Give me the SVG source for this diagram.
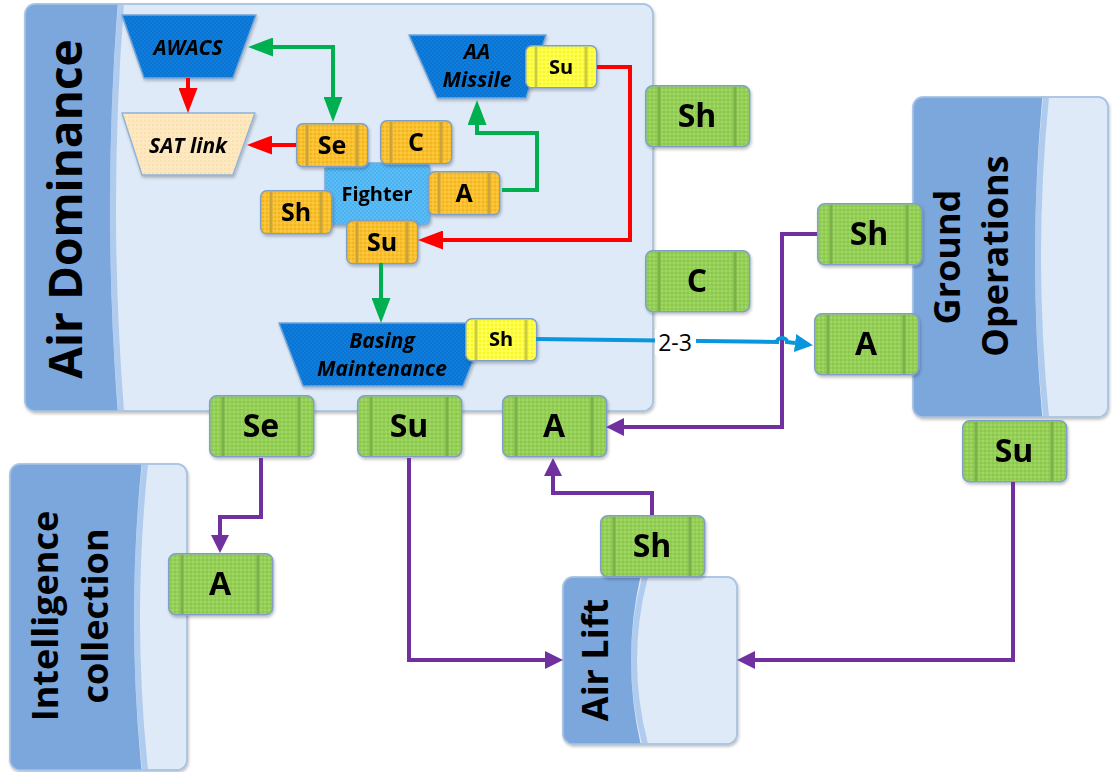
<svg xmlns="http://www.w3.org/2000/svg" xmlns:xlink="http://www.w3.org/1999/xlink" width="1112" height="772" viewBox="0 0 1112 772">
<style>
.cont{fill:#dfeaf8;stroke:#a9c3e4;stroke-width:1.5}
.band{fill:#7ba7dd}
.strip{fill:#afcbee}
.big{font-family:"Open Sans","Liberation Sans",sans-serif;font-weight:bold;fill:#000;text-anchor:middle}
.lbl{font-family:"Open Sans","Liberation Sans",sans-serif;font-weight:bold;fill:#000;text-anchor:middle}
.ital{font-family:"Open Sans","Liberation Sans",sans-serif;font-weight:bold;font-style:italic;fill:#000;text-anchor:middle}
.g32{font-size:32px}
.o25{font-size:25px}
.y20{font-size:20px}
.trap{fill:url(#pBlue);stroke:#76a4d6;stroke-width:1.5;stroke-linejoin:round}
.conn{fill:none;stroke-width:4;stroke-linejoin:miter}
.green{stroke:#00b050}
.red{stroke:#ff0000}
.purple{stroke:#7030a0}
.blue{stroke:#0a96dc;stroke-width:4}
.node{filter:url(#sh)}
</style>
<defs>
<filter id="sh" x="-10%" y="-10%" width="130%" height="140%"><feDropShadow dx="1" dy="2" stdDeviation="1.5" flood-color="#000" flood-opacity="0.25"/></filter>
<pattern id="pGreen" width="4" height="4" patternUnits="userSpaceOnUse"><rect width="4" height="4" fill="#94d056"/><circle cx="1" cy="1" r="0.8" fill="#b4e07c"/><circle cx="3" cy="3" r="0.8" fill="#7fbf42"/></pattern>
<pattern id="pOrange" width="4" height="4" patternUnits="userSpaceOnUse"><rect width="4" height="4" fill="#fbc02d"/><circle cx="1" cy="1" r="0.8" fill="#ffd45a"/><circle cx="3" cy="3" r="0.8" fill="#e8a818"/></pattern>
<pattern id="pYellow" width="4" height="4" patternUnits="userSpaceOnUse"><rect width="4" height="4" fill="#ffff3c"/><circle cx="1" cy="1" r="0.8" fill="#ffff90"/><circle cx="3" cy="3" r="0.8" fill="#e6e620"/></pattern>
<pattern id="pBlue" width="4" height="4" patternUnits="userSpaceOnUse"><rect width="4" height="4" fill="#0c7fe0"/><circle cx="1" cy="1" r="0.8" fill="#0a64b8"/><circle cx="3" cy="3" r="0.8" fill="#0a64b8"/></pattern>
<pattern id="pLight" width="4" height="4" patternUnits="userSpaceOnUse"><rect width="4" height="4" fill="#5bbdf6"/><circle cx="1" cy="1" r="0.8" fill="#3aa4ea"/><circle cx="3" cy="3" r="0.8" fill="#3aa4ea"/></pattern>
<pattern id="pTan" width="4" height="4" patternUnits="userSpaceOnUse"><rect width="4" height="4" fill="#fde8bf"/><circle cx="1" cy="1" r="0.8" fill="#f6d9a0"/></pattern>
<g id="gbox"><rect x="0.75" y="0.75" width="104" height="61" rx="7" fill="url(#pGreen)" stroke="#7f9fc8" stroke-width="1.5"/><line x1="14" y1="2" x2="14" y2="61" stroke="#7bb04c" stroke-width="3"/><line x1="90" y1="2" x2="90" y2="61" stroke="#7bb04c" stroke-width="3"/></g>
<g id="obox"><rect x="0.75" y="0.75" width="71" height="43" rx="6" fill="url(#pOrange)" stroke="#7f9fc8" stroke-width="1.5"/><line x1="11" y1="2" x2="11" y2="43" stroke="#c9a43a" stroke-width="3"/><line x1="61" y1="2" x2="61" y2="43" stroke="#c9a43a" stroke-width="3"/></g>
<g id="ybox"><rect x="0.75" y="0.75" width="71" height="42" rx="6" fill="url(#pYellow)" stroke="#7f9fc8" stroke-width="1.5"/><line x1="11" y1="2" x2="11" y2="42" stroke="#cccc40" stroke-width="3"/><line x1="61" y1="2" x2="61" y2="42" stroke="#cccc40" stroke-width="3"/></g>
<marker id="mG" markerUnits="userSpaceOnUse" markerWidth="25" markerHeight="19" refX="0" refY="9.5" orient="auto-start-reverse"><path d="M0,0 L25,9.5 L0,19 Z" fill="#00b050"/></marker>
<marker id="mR" markerUnits="userSpaceOnUse" markerWidth="25" markerHeight="19" refX="0" refY="9.5" orient="auto"><path d="M0,0 L25,9.5 L0,19 Z" fill="#ff0000"/></marker>
<marker id="mP" markerUnits="userSpaceOnUse" markerWidth="18" markerHeight="18" refX="0" refY="9" orient="auto"><path d="M0,0 L18,9 L0,18 Z" fill="#7030a0"/></marker>
<marker id="mB" markerUnits="userSpaceOnUse" markerWidth="18" markerHeight="18" refX="0" refY="9" orient="auto"><path d="M0,0 L18,9 L0,18 Z" fill="#0a96dc"/></marker>
<clipPath id="cAD"><rect x="25" y="4" width="628" height="407" rx="10"/></clipPath>
<clipPath id="cIC"><rect x="10" y="464" width="177" height="306" rx="10"/></clipPath>
<clipPath id="cGO"><rect x="913" y="97" width="195" height="320" rx="10"/></clipPath>
<clipPath id="cAL"><rect x="563" y="577" width="174" height="167" rx="10"/></clipPath>
</defs>

<g id="air-dominance">
<rect class="cont" x="25" y="4" width="628" height="407" rx="10" filter="url(#sh)"/>
<g clip-path="url(#cAD)">
<path class="strip" d="M118,4 L124,4 Q108,207 124,411 L118,411 Q102,207 118,4 Z"/>
<path class="band" d="M20,0 L118,0 Q102,207 118,415 L20,415 Z"/>
</g>
<rect x="25" y="4" width="628" height="407" rx="10" fill="none" stroke="#a9c3e4" stroke-width="1.5"/>
<text class="big" font-size="46" transform="translate(82,209) rotate(-90)">Air Dominance</text>
</g>

<g id="intelligence-collection">
<rect class="cont" x="10" y="464" width="177" height="306" rx="10" filter="url(#sh)"/>
<g clip-path="url(#cIC)">
<path class="strip" d="M142,464 L148,464 Q132,617 148,770 L142,770 Q126,617 142,464 Z"/>
<path class="band" d="M5,460 L142,460 Q126,617 142,775 L5,775 Z"/>
</g>
<rect x="10" y="464" width="177" height="306" rx="10" fill="none" stroke="#a9c3e4" stroke-width="1.5"/>
<text class="big" font-size="36" transform="translate(58,616) rotate(-90)">Intelligence</text>
<text class="big" font-size="36" transform="translate(108,616) rotate(-90)">collection</text>
</g>

<g id="ground-operations">
<rect class="cont" x="913" y="97" width="195" height="320" rx="10" filter="url(#sh)"/>
<g clip-path="url(#cGO)">
<path class="strip" d="M1043,97 L1049,97 Q1033,257 1049,417 L1043,417 Q1027,257 1043,97 Z"/>
<path class="band" d="M905,90 L1043,90 Q1027,257 1043,425 L905,425 Z"/>
</g>
<rect x="913" y="97" width="195" height="320" rx="10" fill="none" stroke="#a9c3e4" stroke-width="1.5"/>
<text class="big" font-size="36" transform="translate(960,257) rotate(-90)">Ground</text>
<text class="big" font-size="36" transform="translate(1008,256) rotate(-90)">Operations</text>
</g>

<g id="air-lift">
<rect class="cont" x="563" y="577" width="174" height="167" rx="10" filter="url(#sh)"/>
<g clip-path="url(#cAL)">
<path class="strip" d="M642,577 L648,577 Q626,660 648,744 L642,744 Q620,660 642,577 Z"/>
<path class="band" d="M555,570 L642,570 Q620,660 642,750 L555,750 Z"/>
</g>
<rect x="563" y="577" width="174" height="167" rx="10" fill="none" stroke="#a9c3e4" stroke-width="1.5"/>
<text class="big" font-size="36" transform="translate(608,660) rotate(-90)">Air Lift</text>
</g>

<g id="awacs" class="node">
<path class="trap" d="M122,15 L256,15 L233,78 L144,78 Z"/>
<text class="ital" font-size="21" x="188" y="55">AWACS</text>
</g>
<g id="sat-link" class="node">
<path d="M122,113 L255,113 L233,175 L142,175 Z" fill="url(#pTan)" stroke="#8fb3d9" stroke-width="1.5" stroke-linejoin="round"/>
<text class="ital" font-size="21" x="188" y="153">SAT link</text>
</g>
<g id="aa-missile" class="node">
<path class="trap" d="M409,35 L546,35 L526,98 L437,98 Z"/>
<text class="ital" font-size="21" x="477" y="59">AA</text>
<text class="ital" font-size="21" x="477" y="87">Missile</text>
</g>
<g id="aa-su" class="node"><use href="#ybox" x="525" y="45"/><text class="lbl y20" x="561" y="74">Su</text></g>

<g id="basing-maintenance" class="node">
<path class="trap" d="M279,323 L488,323 L463,386 L303,386 Z"/>
<text class="ital" font-size="21" x="382" y="348">Basing</text>
<text class="ital" font-size="21" x="382" y="376">Maintenance</text>
</g>
<g id="basing-sh" class="node"><use href="#ybox" x="465" y="318"/><text class="lbl y20" x="501" y="346">Sh</text></g>

<g id="fighter" class="node">
<rect x="325" y="163" width="105" height="62" rx="6" fill="url(#pLight)" stroke="#7fa9d8" stroke-width="1.5"/>
<text class="lbl" font-size="20" x="377" y="201">Fighter</text>
</g>
<g id="f-se" class="node"><use href="#obox" x="296" y="123"/><text class="lbl o25" x="332" y="154">Se</text></g>
<g id="f-c" class="node"><use href="#obox" x="380" y="120"/><text class="lbl o25" x="416" y="151">C</text></g>
<g id="f-a" class="node"><use href="#obox" x="428" y="171"/><text class="lbl o25" x="464" y="202">A</text></g>
<g id="f-sh" class="node"><use href="#obox" x="260" y="190"/><text class="lbl o25" x="296" y="221">Sh</text></g>
<g id="f-su" class="node"><use href="#obox" x="346" y="220"/><text class="lbl o25" x="382" y="251">Su</text></g>

<g id="ad-sh" class="node"><use href="#gbox" x="645" y="85"/><text class="lbl g32" x="697" y="127">Sh</text></g>
<g id="ad-c" class="node"><use href="#gbox" x="645" y="250"/><text class="lbl g32" x="697" y="292">C</text></g>
<g id="go-sh" class="node"><use href="#gbox" x="817" y="203"/><text class="lbl g32" x="869" y="245">Sh</text></g>
<g id="go-a" class="node"><use href="#gbox" x="814" y="313"/><text class="lbl g32" x="866" y="355">A</text></g>
<g id="go-su" class="node"><use href="#gbox" x="962" y="420"/><text class="lbl g32" x="1014" y="462">Su</text></g>
<g id="ad-se" class="node"><use href="#gbox" x="209" y="395"/><text class="lbl g32" x="261" y="437">Se</text></g>
<g id="ad-su" class="node"><use href="#gbox" x="357" y="395"/><text class="lbl g32" x="409" y="437">Su</text></g>
<g id="ad-a" class="node"><use href="#gbox" x="502" y="395"/><text class="lbl g32" x="554" y="437">A</text></g>
<g id="ic-a" class="node"><use href="#gbox" x="168" y="553"/><text class="lbl g32" x="220" y="595">A</text></g>
<g id="al-sh" class="node"><use href="#gbox" x="600" y="515"/><text class="lbl g32" x="652" y="557">Sh</text></g>

<g id="connectors">
<path class="conn green" d="M273,47 L333,47 L333,97" marker-start="url(#mG)" marker-end="url(#mG)"/>
<path class="conn green" d="M502,190 L537,190 L537,133 L477,133 L477,125" marker-end="url(#mG)"/>
<path class="conn green" d="M381,263 L381,298" marker-end="url(#mG)"/>
<path class="conn red" d="M188,78 L188,88" marker-end="url(#mR)"/>
<path class="conn red" d="M296,145 L272,145" marker-end="url(#mR)"/>
<path class="conn red" d="M597,67 L630,67 L630,240 L443,240" marker-end="url(#mR)"/>
<path class="conn purple" d="M817,234 L782,234 L782,427 L624,427" marker-end="url(#mP)"/>
<path class="conn purple" d="M261,458 L261,517 L220,517 L220,535" marker-end="url(#mP)"/>
<path class="conn purple" d="M409,458 L409,660 L545,660" marker-end="url(#mP)"/>
<path class="conn purple" d="M652,515 L652,493 L553,493 L553,476" marker-end="url(#mP)"/>
<path class="conn purple" d="M1013,482 L1013,660 L755,660" marker-end="url(#mP)"/>
<path class="conn blue" d="M536,339 L777,342 A5,4 0 0 1 787,342 L795,343" marker-end="url(#mB)"/>
<rect x="655" y="329" width="41" height="26" fill="#ffffff"/>
<text x="675" y="351" font-family="Open Sans, Liberation Sans, sans-serif" font-size="23" text-anchor="middle" fill="#000">2-3</text>
</g>
</svg>
